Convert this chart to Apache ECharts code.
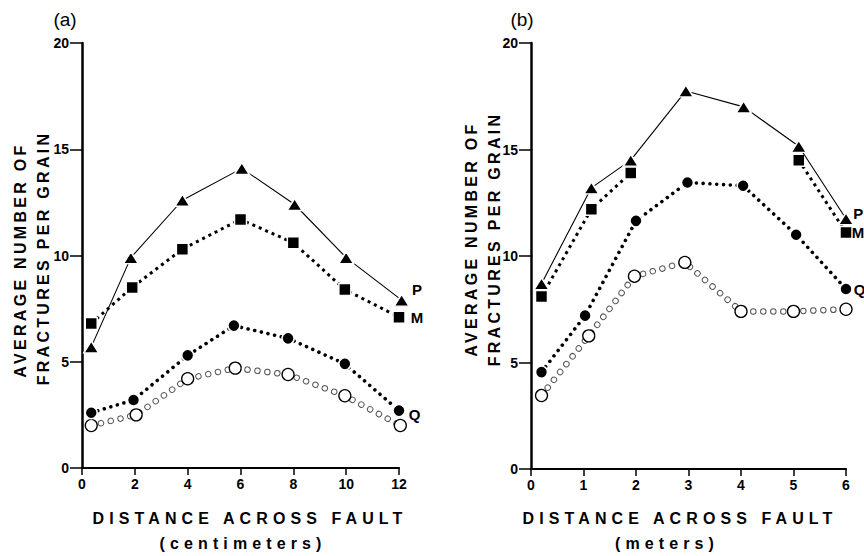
<!DOCTYPE html>
<html><head><meta charset="utf-8">
<script src="https://cdn.jsdelivr.net/npm/echarts@6/dist/echarts.min.js"></script>
<style>
html,body{margin:0;padding:0;background:#fff;}
#c{width:864px;height:556px;}
#c text[style*="800"]{letter-spacing:5.1px;}
#c text[style*="900"]{letter-spacing:3.3px;}
</style></head><body><div id="c"></div>
<script>
// ---- Panel (a): distance across fault in centimeters ----
const aTicksX = [0, 2, 4, 6, 8, 10, 12];
const aP_x = [0.35, 1.85, 3.8, 6.05, 8.05, 10.0, 12.1];
const aP_y = [5.7, 9.9, 12.6, 14.1, 12.4, 9.9, 7.9];
const aM_x = [0.35, 1.9, 3.8, 6.0, 8.0, 9.95, 12.0];
const aM_y = [6.8, 8.5, 10.3, 11.7, 10.6, 8.4, 7.1];
const aQ_x = [0.35, 1.95, 4.0, 5.75, 7.8, 9.95, 12.0];
const aQ_y = [2.6, 3.2, 5.3, 6.7, 6.1, 4.9, 2.7];
const aO_x = [0.35, 2.05, 4.0, 5.8, 7.8, 9.95, 12.05];
const aO_y = [2.0, 2.5, 4.2, 4.7, 4.4, 3.4, 2.0];

// ---- Panel (b): distance across fault in meters ----
const bTicksX = [0, 1, 2, 3, 4, 5, 6];
const bP_x = [0.2, 1.15, 1.9, 2.95, 4.05, 5.1, 6.0];
const bP_y = [8.7, 13.2, 14.5, 17.75, 17.0, 15.15, 11.75];
// M has no values at ~3 m and ~4 m (line is broken there)
const bM_x = [0.2, 1.15, 1.9, 2.95, 4.05, 5.1, 6.0];
const bM_y = [8.1, 12.2, 13.9, null, null, 14.5, 11.1];
const bQ_x = [0.2, 1.03, 2.0, 2.98, 4.04, 5.05, 6.0];
const bQ_y = [4.55, 7.2, 11.65, 13.45, 13.3, 11.0, 8.45];
const bO_x = [0.2, 1.1, 1.97, 2.93, 4.0, 5.0, 6.0];
const bO_y = [3.45, 6.25, 9.05, 9.7, 7.4, 7.4, 7.5];

const yTicks = [0, 5, 10, 15, 20];
const seriesNames = ['P', 'M', 'Q'];
const xTitle = 'DISTANCE ACROSS FAULT';
const aUnit = '(centimeters)';
const bUnit = '(meters)';
const yTitle1 = 'AVERAGE NUMBER OF';
const yTitle2 = 'FRACTURES PER GRAIN';

const FONT = '"Liberation Sans", Arial, Helvetica, sans-serif';

function pts(xs, ys, lab, off) {
  return xs.map((x, i) => {
    const y = ys[i] == null ? '-' : ys[i];
    if (lab && i === xs.length - 1) {
      return { value: [x, y], label: { show: true, formatter: lab, position: 'right', distance: 5, offset: off,
        color: '#000', fontFamily: FONT, fontWeight: 'bold', fontSize: 15 } };
    }
    return [x, y];
  });
}

function xAxis(idx, max, interval) {
  return { type: 'value', gridIndex: idx, min: 0, max: max, interval: interval,
    axisLine: { show: true, onZero: false, lineStyle: { color: '#000', width: 2.2 } },
    axisTick: { show: true, length: 7, lineStyle: { color: '#000', width: 1.5 } },
    axisLabel: { margin: 9, color: '#000', fontFamily: FONT, fontWeight: 'bold', fontSize: 14 },
    splitLine: { show: false } };
}
function yAxis(idx) {
  return { type: 'value', gridIndex: idx, min: 0, max: 20, interval: 5,
    axisLine: { show: true, onZero: false, lineStyle: { color: '#000', width: 2.5 } },
    axisTick: { show: true, length: 12, lineStyle: { color: '#000', width: 1.5 } },
    axisLabel: { margin: 13, color: '#000', fontFamily: FONT, fontWeight: 'bold', fontSize: 14,
      formatter: v => yTicks.includes(v) ? String(v) : '' },
    splitLine: { show: false } };
}

function panelSeries(i, P, M, Q, O, offs) {
  const common = { type: 'line', xAxisIndex: i, yAxisIndex: i, silent: true, animation: false,
    emphasis: { disabled: true }, clip: false, connectNulls: false };
  return [
    Object.assign({}, common, { name: 'open-base' + i, data: pts(O[0], O[1]), showSymbol: false, symbol: 'none',
      lineStyle: { color: '#555', width: 6.5, type: [0.01, 10], cap: 'round' }, z: 1 }),
    Object.assign({}, common, { name: 'open' + i, data: pts(O[0], O[1]), symbol: 'circle', symbolSize: 12,
      itemStyle: { color: '#fff', borderColor: '#000', borderWidth: 1.3 },
      lineStyle: { color: '#fff', width: 4.5, type: [0.01, 10], cap: 'round' }, z: 2 }),
    Object.assign({}, common, { name: seriesNames[2] + i, data: pts(Q[0], Q[1], seriesNames[2], offs[2]), symbol: 'circle', symbolSize: 12,
      itemStyle: { color: '#000', borderColor: '#fff', borderWidth: 1.5 },
      lineStyle: { color: '#000', width: 3.6, type: [0.01, 6.8], cap: 'round' }, z: 3 }),
    Object.assign({}, common, { name: seriesNames[1] + i, data: pts(M[0], M[1], seriesNames[1], offs[1]), symbol: 'rect', symbolSize: 12,
      itemStyle: { color: '#000', borderColor: '#fff', borderWidth: 1.5 },
      lineStyle: { color: '#000', width: 3, type: [3, 4], cap: 'butt' }, z: 4 }),
    Object.assign({}, common, { name: seriesNames[0] + i, data: pts(P[0], P[1], seriesNames[0], offs[0]), symbol: 'triangle', symbolSize: [15, 12],
      itemStyle: { color: '#000', borderColor: '#fff', borderWidth: 1.5 },
      lineStyle: { color: '#000', width: 1.1, type: 'solid' }, z: 5 })
  ];
}

function txt(x, y, text, opts) {
  return Object.assign({ type: 'text', x: x, y: y, silent: true,
    style: Object.assign({ text: text, fill: '#000', fontFamily: FONT, textAlign: 'center', textVerticalAlign: 'middle' }, opts.style) },
    opts.rotation ? { rotation: opts.rotation } : {});
}

const chart = echarts.init(document.getElementById('c'), null, { renderer: 'svg', width: 864, height: 556 });
chart.setOption({
  backgroundColor: '#fff',
  animation: false,
  grid: [
    { left: 82, top: 43, width: 317, height: 425, containLabel: false },
    { left: 531, top: 43, width: 315, height: 426, containLabel: false }
  ],
  xAxis: [xAxis(0, aTicksX[aTicksX.length - 1], aTicksX[1] - aTicksX[0]), xAxis(1, bTicksX[bTicksX.length - 1], bTicksX[1] - bTicksX[0])],
  yAxis: [yAxis(0), yAxis(1)],
  series: [].concat(
    panelSeries(0, [aP_x, aP_y], [aM_x, aM_y], [aQ_x, aQ_y], [aO_x, aO_y], [[-3, -11], [0, 0], [-2, 4]]),
    panelSeries(1, [bP_x, bP_y], [bM_x, bM_y], [bQ_x, bQ_y], [bO_x, bO_y], [[-6, -5], [-6, 0], [-4, 0]])
  ),
  graphic: [
    txt(65, 19, '(a)', { style: { fontSize: 19, fontWeight: 'normal' } }),
    txt(522, 19, '(b)', { style: { fontSize: 19, fontWeight: 'normal' } }),
    txt(250, 518, xTitle, { style: { fontSize: 16, fontWeight: 800 } }),
    txt(243, 543, aUnit, { style: { fontSize: 16, fontWeight: 800 } }),
    txt(680, 518, xTitle, { style: { fontSize: 16, fontWeight: 800 } }),
    txt(667, 543, bUnit, { style: { fontSize: 16, fontWeight: 800 } }),
    txt(20, 260, yTitle1, { rotation: Math.PI / 2, style: { fontSize: 16, fontWeight: 900 } }),
    txt(43, 258, yTitle2, { rotation: Math.PI / 2, style: { fontSize: 16, fontWeight: 900 } }),
    txt(471, 239, yTitle1, { rotation: Math.PI / 2, style: { fontSize: 16, fontWeight: 900 } }),
    txt(494, 239, yTitle2, { rotation: Math.PI / 2, style: { fontSize: 16, fontWeight: 900 } })
  ]
});
</script></body></html>
